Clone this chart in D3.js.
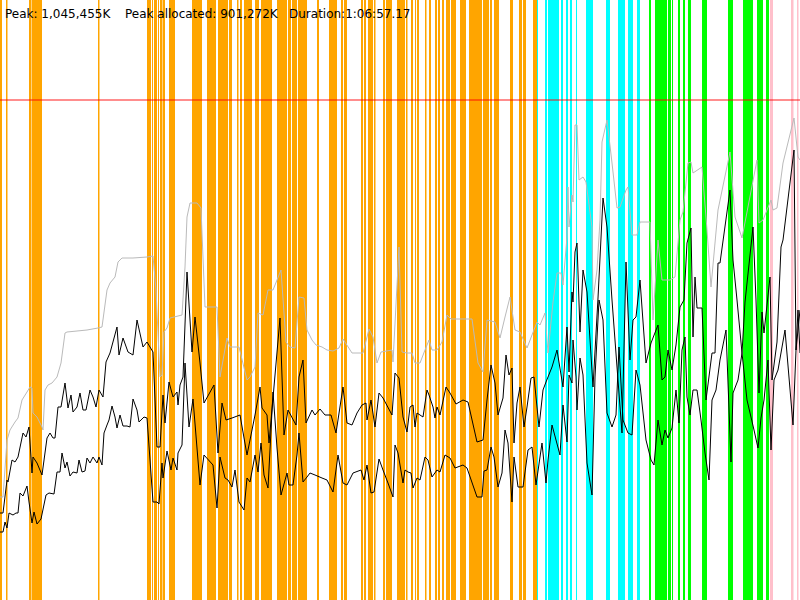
<!DOCTYPE html>
<html>
<head>
<meta charset="utf-8">
<script src="https://cdn.jsdelivr.net/npm/d3@7"></script>
<style>
  body { margin: 0; background: #fff; }
  svg { display: block; }
</style>
</head>
<body>
<svg id="memchart" width="800" height="600"></svg>
<script>
// summary line
const summary = [
  { label: "Peak: 1,045,455K", x: 5 },
  { label: "Peak allocated: 901,272K", x: 125 },
  { label: "Duration:1:06:57.17", x: 289 }
];

// memory limit (MB)
const limitMB = 1000;

// gc events as [start, end] on the sample axis
const orangeBands = [[0,2],[6,7.5],[29,31],[31.5,42],[98,99.5],[147,151],[152,153],[154,157],[158,159],[160,162],
  [162.5,165],[169,175],[192,200],[200,202],[207,216],[218,228],[229,232],[237,238.5],[240,242],[244,252],
  [255,259],[261,272],[277,287],[288,291],[292,297],[298,307],[317,319],[329,337],[341,343],[344,347],
  [361,363],[364,366],[368,373],[374,375.5],[383,385],[386,392],[397,405],[406,407.5],[411,413],[415,416],
  [417,419],[425,426.5],[429,431],[435,437],[438,440],[442,444],[446,450],[451,456],[460,466],[469,482],
  [483,489],[490,492],[494,499],[510,513],[519,522],[523,526],[533,537]];
const cyanBands = [[537,538],[545,547],[548,559],[561,563],[566,568],[570,572],[576,577],[586,593],
  [606,610],[618,625],[628,633],[637,640]];
const greenBands = [[649,651],[655,667],[668,671],[672,673],[678,680],[683,685],[688,691],[702,707],
  [728,733],[743,753],[757,763],[766,769]];
const pinkBands = [[770,773],[791,793.5],[797,798.5]];

// committed heap (gray)
const peakT = [0,3,7,10,15,18,22,27,30,32,33,37,42,43,45,48,52,57,61,65,67,87,98,102,107,110,115,118,122,133,
  147,153,156,160,162,164,167,170,182,185,187,190,197,201,205,217,220,227,230,239,247,250,255,258,263,268,
  273,281,286,290,295,299,304,307,312,316,322,327,333,339,343,352,363,369,373,377,381,392,393,399,402,407,
  412,415,420,425,429,432,437,442,447,451,472,478,483,487,495,500,505,510,515,520,527,532,537,540,545,548,
  553,557,561,563,567,568,569,572,573,575,577,579,583,586,592,593,597,600,602,607,612,617,620,626,628,632,
  637,640,650,653,658,662,670,675,680,683,688,691,693,702,707,711,718,730,735,742,757,759,763,771,773,777,
  783,794,798,800];
const peakMB = [206,206,320,340,356,364,400,416,426,424,374,366,346,340,420,430,434,446,474,534,536,540,544,546,
  620,634,646,676,684,684,686,688,620,446,450,536,544,564,570,666,766,794,794,784,586,586,446,524,506,506,
  440,446,466,574,570,620,620,660,516,506,504,606,604,540,520,510,506,500,498,504,522,494,494,542,526,474,
  496,500,476,706,496,494,494,474,474,500,520,500,500,516,570,562,562,474,456,560,556,524,566,606,540,536,
  504,530,556,550,574,494,596,654,654,630,726,826,746,810,796,950,950,840,846,836,746,600,660,760,916,960,
  874,784,786,820,826,730,730,756,756,560,720,640,640,646,760,776,874,876,854,866,740,626,780,896,766,724,
  880,754,760,800,780,784,874,964,886,880];

// used heap, upper trace (black)
const upperT = [0,3,7,8,12,15,18,23,26,29,32,33,37,42,47,50,53,55,58,61,65,68,71,73,77,80,83,86,90,93,96,99,
  103,106,110,117,119,123,128,133,137,143,147,153,157,160,163,165,169,173,177,178,180,183,187,192,195,200,
  204,214,218,222,226,232,240,247,255,260,262,267,269,273,280,284,288,296,299,303,306,312,315,320,325,331,
  336,343,347,352,357,362,366,367,371,375,379,383,392,395,399,403,407,410,413,415,417,423,427,429,433,435,
  437,440,446,450,456,463,468,477,483,487,491,495,498,503,506,509,512,514,517,520,524,527,531,534,539,543,
  546,552,557,563,567,569,572,573,575,577,580,583,587,593,598,603,607,612,617,622,626,630,633,636,640,646,
  651,658,662,665,668,672,676,680,684,687,691,693,695,697,702,706,712,715,718,720,730,733,737,742,745,753,
  756,759,762,764,770,772,777,781,783,794,796,798,800];
const upperMB = [174,174,240,236,280,276,286,334,326,346,254,286,274,250,324,334,324,324,386,386,434,384,410,
  376,386,414,380,380,420,406,386,420,406,476,494,546,490,524,496,490,560,506,516,496,306,306,410,354,436,
  406,416,390,430,446,656,496,566,474,394,430,294,394,360,364,370,290,370,426,384,370,314,404,564,330,380,
  350,446,480,354,380,370,382,370,370,334,426,354,350,374,390,394,360,400,346,414,404,370,454,444,366,336,
  386,390,346,374,366,420,410,386,364,386,370,426,414,392,400,396,316,320,400,470,434,370,404,490,450,464,
  314,394,426,346,386,444,446,346,420,436,466,500,426,546,456,616,596,696,714,536,660,616,426,604,804,746,
  600,466,334,676,480,560,566,640,474,514,550,440,446,500,460,510,586,600,714,744,526,646,584,584,400,494,
  494,674,674,820,680,600,494,596,746,600,414,576,534,646,440,516,706,720,900,500,580,494];

// used heap, lower trace (black)
const lowerT = [0,3,5,7,9,13,16,18,20,23,27,29,32,34,37,41,46,49,54,57,60,62,65,67,70,73,77,79,82,85,87,90,93,
  97,99,102,104,107,109,112,115,117,120,123,127,130,133,137,139,144,147,153,157,159,162,163,167,171,173,
  177,178,182,185,189,193,200,204,213,217,220,225,228,232,235,239,244,247,250,255,258,261,264,268,273,277,
  281,287,289,293,297,299,303,307,310,315,322,327,333,338,343,347,353,361,364,367,371,374,379,383,388,393,
  395,398,403,405,408,411,413,417,420,425,428,432,437,440,445,450,455,463,467,477,482,484,487,491,494,498,
  502,505,508,512,514,518,523,528,532,536,542,546,548,552,556,560,563,567,569,572,573,576,577,580,583,587,
  592,595,599,603,607,612,616,619,623,628,632,636,640,646,651,654,658,662,665,668,672,676,679,682,685,687,
  690,693,697,701,705,709,712,716,720,726,731,733,738,742,747,754,758,761,764,768,771,774,778,785,793,796,
  800];
const lowerMB = [136,136,156,144,174,170,174,174,214,208,228,196,154,176,152,162,210,214,212,256,256,294,264,
  276,248,256,254,280,256,258,284,274,286,274,286,270,334,350,360,388,366,344,370,348,348,346,402,380,356,
  366,364,196,196,192,274,244,298,260,284,260,294,310,474,346,402,230,290,270,184,286,244,240,226,260,196,
  180,244,236,290,256,314,250,224,416,304,210,254,230,230,290,334,236,246,254,250,244,240,216,290,234,230,
  254,260,240,270,214,216,282,260,234,206,310,294,234,260,256,254,224,244,240,286,280,246,260,256,290,284,
  264,270,264,206,206,258,260,306,286,226,254,340,314,196,286,226,226,300,306,230,314,234,280,350,320,290,
  390,316,450,434,520,446,380,484,450,274,210,446,600,560,374,346,370,506,360,334,330,460,430,320,280,270,
  360,310,340,324,344,420,354,500,526,406,370,420,420,360,294,240,400,420,480,540,276,414,440,494,400,340,
  304,364,400,480,300,440,460,540,350,500,580];

const svg = d3.select("#memchart"),
      width = +svg.attr("width"),
      height = +svg.attr("height");

const x = d3.scaleLinear().domain([0, 800]).range([0, width]);
const y = d3.scaleLinear().domain([0, 1200]).range([height, 0]);

svg.append("rect").attr("width", width).attr("height", height).attr("fill", "#fff");

const bandSets = [
  { bands: orangeBands, color: "#ffa500" },
  { bands: cyanBands, color: "#00ffff" },
  { bands: greenBands, color: "#00ff00" },
  { bands: pinkBands, color: "#ffc0cb" }
];

bandSets.forEach(set => {
  svg.append("g")
    .selectAll("rect")
    .data(set.bands)
    .enter()
    .append("rect")
    .attr("x", d => x(d[0]))
    .attr("y", 0)
    .attr("width", d => x(d[1]) - x(d[0]))
    .attr("height", height)
    .attr("fill", set.color);
});

const line = d3.line()
  .x(d => x(d[0]))
  .y(d => y(d[1]));

svg.append("path")
  .datum(d3.zip(peakT, peakMB))
  .attr("fill", "none")
  .attr("stroke", "#bababa")
  .attr("stroke-width", 1)
  .attr("d", line);

[d3.zip(upperT, upperMB), d3.zip(lowerT, lowerMB)].forEach(series => {
  svg.append("path")
    .datum(series)
    .attr("fill", "none")
    .attr("stroke", "#000")
    .attr("stroke-width", 1)
    .attr("d", line);
});

svg.append("line")
  .attr("x1", 0)
  .attr("x2", width)
  .attr("y1", y(limitMB))
  .attr("y2", y(limitMB))
  .attr("stroke", "#ff0000")
  .attr("stroke-opacity", 0.6)
  .attr("stroke-width", 1.6);

svg.selectAll(".summary")
  .data(summary)
  .enter()
  .append("text")
  .attr("class", "summary")
  .attr("x", d => d.x)
  .attr("y", 17.5)
  .attr("font-family", "DejaVu Sans, sans-serif")
  .attr("font-size", 12)
  .attr("fill", "#000")
  .text(d => d.label);
</script>
</body>
</html>
